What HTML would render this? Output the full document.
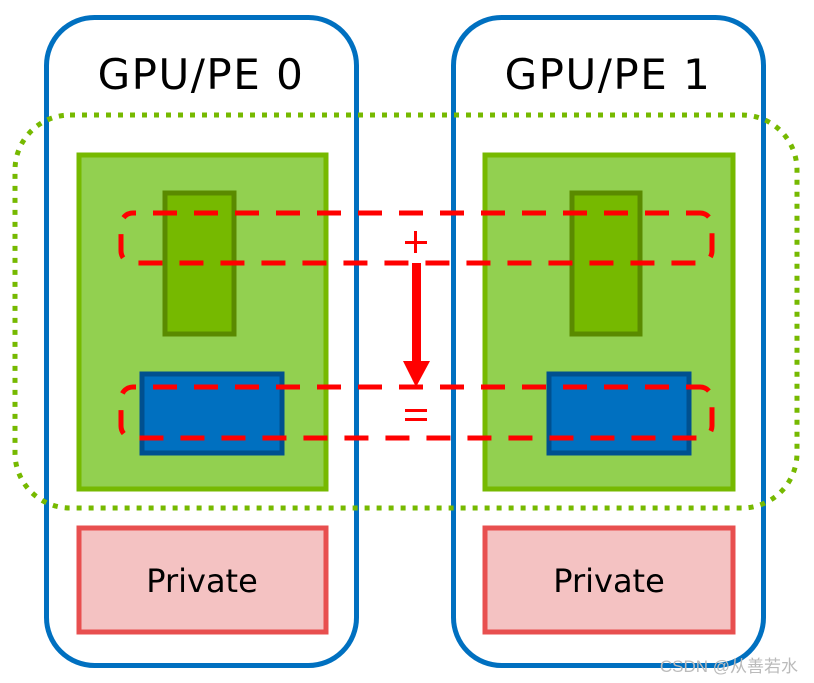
<!DOCTYPE html>
<html><head><meta charset="utf-8"><style>
html,body{margin:0;padding:0;background:#fff;}
svg{display:block;}
</style></head><body>
<svg width="814" height="683" viewBox="0 0 814 683" xmlns="http://www.w3.org/2000/svg">
<rect x="46.5" y="17.5" width="310" height="648" rx="48" fill="none" stroke="#0070c0" stroke-width="5"/>
<rect x="453.5" y="17.5" width="310" height="648" rx="48" fill="none" stroke="#0070c0" stroke-width="5"/>
<text x="201" y="89" font-family="'DejaVu Sans','Liberation Sans',sans-serif" font-size="42" letter-spacing="1.5" text-anchor="middle" fill="#000">GPU/PE 0</text>
<text x="608" y="89" font-family="'DejaVu Sans','Liberation Sans',sans-serif" font-size="42" letter-spacing="1.5" text-anchor="middle" fill="#000">GPU/PE 1</text>
<rect x="15" y="115" width="782" height="393" rx="55" fill="none" stroke="#76b900" stroke-width="5" stroke-dasharray="5 7"/>
<rect x="79" y="155" width="247" height="334" fill="#92d050" stroke="#76b900" stroke-width="5"/>
<rect x="485" y="155" width="248" height="334" fill="#92d050" stroke="#76b900" stroke-width="5"/>
<rect x="165" y="193" width="69" height="141" fill="#76b900" stroke="#5a8a00" stroke-width="5"/>
<rect x="572" y="193" width="68" height="141" fill="#76b900" stroke="#5a8a00" stroke-width="5"/>
<rect x="142" y="374" width="140" height="79" fill="#0070c0" stroke="#00508f" stroke-width="5"/>
<rect x="549" y="374" width="140" height="79" fill="#0070c0" stroke="#00508f" stroke-width="5"/>
<rect x="79" y="528" width="247" height="104" fill="#f4c2c2" stroke="#e84f4f" stroke-width="5"/>
<rect x="485" y="528" width="248" height="104" fill="#f4c2c2" stroke="#e84f4f" stroke-width="5"/>
<text x="202" y="592" font-family="'DejaVu Sans','Liberation Sans',sans-serif" font-size="32" text-anchor="middle" fill="#000">Private</text>
<text x="609" y="592" font-family="'DejaVu Sans','Liberation Sans',sans-serif" font-size="32" text-anchor="middle" fill="#000">Private</text>
<rect x="121" y="213" width="591" height="50" rx="12" fill="none" stroke="#f00" stroke-width="5" stroke-dasharray="24 17" stroke-dashoffset="-20"/>
<rect x="121" y="387" width="591" height="51" rx="12" fill="none" stroke="#f00" stroke-width="5" stroke-dasharray="24 17" stroke-dashoffset="-20"/>
<rect x="412" y="263" width="9" height="100" fill="#f00"/>
<polygon points="403,361 430,361 416,387" fill="#f00"/>
<rect x="405" y="241" width="22" height="3" fill="#f00"/>
<rect x="414" y="231" width="3" height="22" fill="#f00"/>
<rect x="405" y="409" width="22" height="3" fill="#f00"/>
<rect x="405" y="418" width="22" height="3" fill="#f00"/>
<text x="798" y="672" font-family="'Liberation Sans','Noto Sans CJK SC',sans-serif" font-size="17" text-anchor="end" fill="#bbb">CSDN @从善若水</text>
</svg>
</body></html>
